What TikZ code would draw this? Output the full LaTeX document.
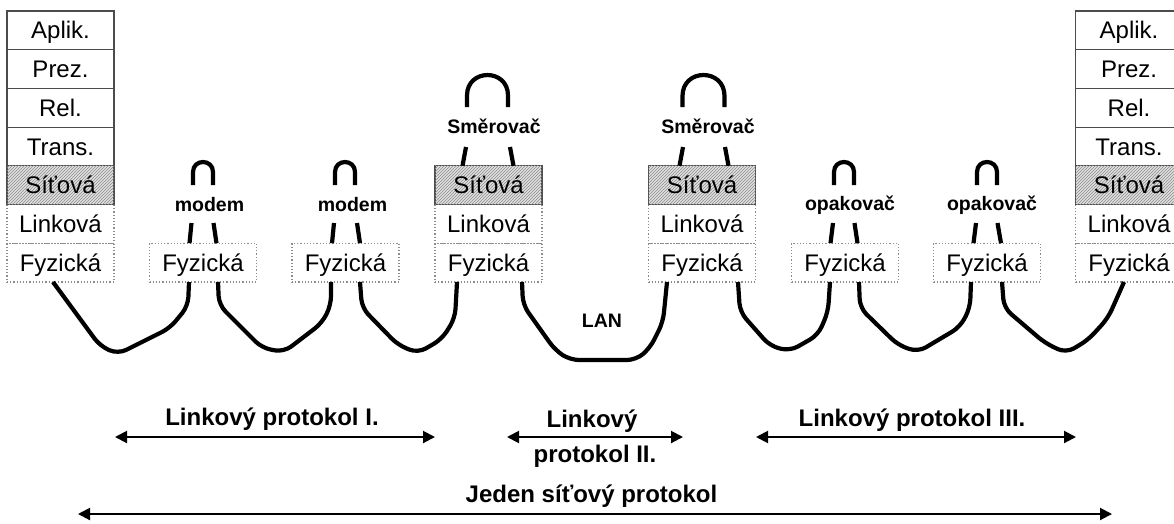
\documentclass[tikz,border=0pt]{standalone}
\usepackage{fontspec}
\setmainfont{Liberation Sans}
\usetikzlibrary{arrows.meta,patterns}
\begin{document}
\begin{tikzpicture}[x=1pt,y=-1pt,
 osilayer/.style={draw=black!70, line width=1.2pt, minimum width=107pt, minimum height=38.7pt,
   inner sep=0pt, text height=17.2pt, text depth=0pt, font=\fontsize{24}{28}\selectfont},
 netlayer/.style={osilayer, fill=black!12, postaction={pattern=north east lines, pattern color=black!45}},
 lowlayer/.style={osilayer, draw=black!45, dotted},
 cable/.style={line width=4.2pt, line join=round, rounded corners=9pt},
 devstub/.style={line width=4.2pt},
 devlabel/.style={font=\bfseries\fontsize{19.5}{22}\selectfont, anchor=base, inner sep=0pt},
 protlabel/.style={font=\bfseries\fontsize{24}{28}\selectfont, anchor=base, inner sep=0pt},
 protarrow/.style={line width=2pt, {Triangle[length=12pt,width=12pt]}-{Triangle[length=12pt,width=12pt]}}
]
\useasboundingbox (0,0) rectangle (1174,523);
\clip (0,0) rectangle (1174,523);

% ---------- left end station ----------
\node[osilayer] (la) at (60.5,30.35) {Aplik.};
\node[osilayer] (lp) at (60.5,69.05) {Prez.};
\node[osilayer] (lr) at (60.5,107.75) {Rel.};
\node[osilayer] (lt) at (60.5,146.45) {Trans.};
\node[lowlayer] (ll) at (60.5,223.85) {Linková};
\node[lowlayer] (lf) at (60.5,262.55) {Fyzická};
\node[netlayer] (ls) at (60.5,185.15) {Síťová};

% ---------- right end station ----------
\node[osilayer] (ra) at (1129,30.35) {Aplik.};
\node[osilayer] (rp) at (1129,69.05) {Prez.};
\node[osilayer] (rr) at (1129,107.75) {Rel.};
\node[osilayer] (rt) at (1129,146.45) {Trans.};
\node[lowlayer] (rl) at (1129,223.85) {Linková};
\node[lowlayer] (rf) at (1129,262.55) {Fyzická};
\node[netlayer] (rs) at (1129,185.15) {Síťová};

% ---------- modems ----------
\node[lowlayer] (m1) at (203,262.55) {Fyzická};
\node[lowlayer] (m2) at (345.5,262.55) {Fyzická};
% ---------- routers ----------
\node[lowlayer] (r1l) at (488.5,223.85) {Linková};
\node[lowlayer] (r1f) at (488.5,262.55) {Fyzická};
\node[netlayer] (r1s) at (488.5,185.15) {Síťová};
\node[lowlayer] (r2l) at (702,223.85) {Linková};
\node[lowlayer] (r2f) at (702,262.55) {Fyzická};
\node[netlayer] (r2s) at (702,185.15) {Síťová};
% ---------- repeaters ----------
\node[lowlayer] (o1) at (845,262.55) {Fyzická};
\node[lowlayer] (o2) at (987,262.55) {Fyzická};

% ---------- device labels ----------
\node[devlabel] (m1t) at (209.5,211) {modem};
\node[devlabel] (m2t) at (352.5,211) {modem};
\node[devlabel] (r1t) at (494,133) {Směrovač};
\node[devlabel] (r2t) at (708,133) {Směrovač};
\node[devlabel] (o1t) at (850,210) {opakovač};
\node[devlabel] (o2t) at (992,210) {opakovač};
\node[devlabel] (lan) at (602,327) {LAN};

% ---------- arches above devices ----------
\draw[devstub] (193,185) -- (193,172) .. controls (193,158.7) and (213,158.7) .. (213,172) -- (213,185);
\draw[devstub] (335,185) -- (335,172) .. controls (335,158.7) and (355,158.7) .. (355,172) -- (355,185);
\draw[devstub] (834,185) -- (834,172) .. controls (834,158.7) and (854,158.7) .. (854,172) -- (854,185);
\draw[devstub] (977,185) -- (977,172) .. controls (977,158.7) and (997,158.7) .. (997,172) -- (997,185);
\draw[devstub] (467,107) -- (467,95.5) .. controls (467,68.2) and (508,68.2) .. (508,95.5) -- (508,107);
\draw[devstub] (682.5,107) -- (682.5,96) .. controls (682.5,68) and (724.5,68) .. (724.5,96) -- (724.5,107);

% ---------- stubs into the devices ----------
\draw[devstub] (191.5,223) -- (189.5,243.2);
\draw[devstub] (213.5,223) -- (216.5,243.2);
\draw[devstub] (334,223) -- (332,243.2);
\draw[devstub] (357,223) -- (360,243.2);
\draw[devstub] (833,223) -- (830.5,243.2);
\draw[devstub] (854.5,223) -- (857.5,243.2);
\draw[devstub] (976,223) -- (973.5,243.2);
\draw[devstub] (997.5,223) -- (1001,243.2);
\draw[devstub] (466,147) -- (462.5,165.8);
\draw[devstub] (510,147) -- (513.5,165.8);
\draw[devstub] (683,147) -- (679.5,165.8);
\draw[devstub] (725,147) -- (728.5,165.8);

% ---------- cable ends ----------
\coordinate (lfo) at (53,282);
\coordinate (m1a) at (189,282);  \coordinate (m1b) at (218,282);
\coordinate (m2a) at (331,282);  \coordinate (m2b) at (360,282);
\coordinate (r1a) at (457,282);  \coordinate (r1b) at (522,282);
\coordinate (r2a) at (667,282);  \coordinate (r2b) at (738,282);
\coordinate (o1a) at (830,282);  \coordinate (o1b) at (859,282);
\coordinate (o2a) at (971,282);  \coordinate (o2b) at (1002,282);
\coordinate (rfo) at (1124,282);

% ---------- cables ----------
\draw[cable] (lfo) -- (100,346) -- (118,354) -- (170,328) -- (188,306) -- (m1a);
\draw[cable] (m1b) -- (219,305) -- (262,348) -- (284,352) -- (322,323) -- (331,305) -- (m2a);
\draw[cable] (m2b) -- (362,308) -- (398,345) -- (418,353) -- (442,339) -- (455,318) -- (r1a);
\draw[cable] (r1b) -- (523,305) -- (555,350) -- (570,360) -- (636,360) -- (650,348) -- (663,322) -- (r2a);
\draw[cable] (r2b) -- (740,312) -- (770,346) -- (790,351) -- (818,335) -- (828,312) -- (o1a);
\draw[cable] (o1b) -- (860,308) -- (898,345) -- (918,352) -- (960,327) -- (970,308) -- (o2a);
\draw[cable] (o2b) -- (1004,308) -- (1045,343) -- (1066,353) -- (1088,340) -- (1108,318) -- (rfo);

% ---------- protocol spans ----------
\coordinate (p1a) at (115,437);  \coordinate (p1b) at (435,437);
\coordinate (p2a) at (507,437);  \coordinate (p2b) at (683,437);
\coordinate (p3a) at (756,437);  \coordinate (p3b) at (1076,437);
\coordinate (pna) at (78,514);   \coordinate (pnb) at (1112,514);
\draw[protarrow] (p1a) -- (p1b);
\draw[protarrow] (p2a) -- (p2b);
\draw[protarrow] (p3a) -- (p3b);
\draw[protarrow] (pna) -- (pnb);
\node[protlabel] (t1) at (272,425) {Linkový protokol I.};
\node[protlabel] (t2a) at (592,427) {Linkový};
\node[protlabel] (t2b) at (595,462) {protokol II.};
\node[protlabel] (t3) at (912,426) {Linkový protokol III.};
\node[protlabel] (tn) at (591.5,502) {Jeden síťový protokol};
\end{tikzpicture}
\end{document}
